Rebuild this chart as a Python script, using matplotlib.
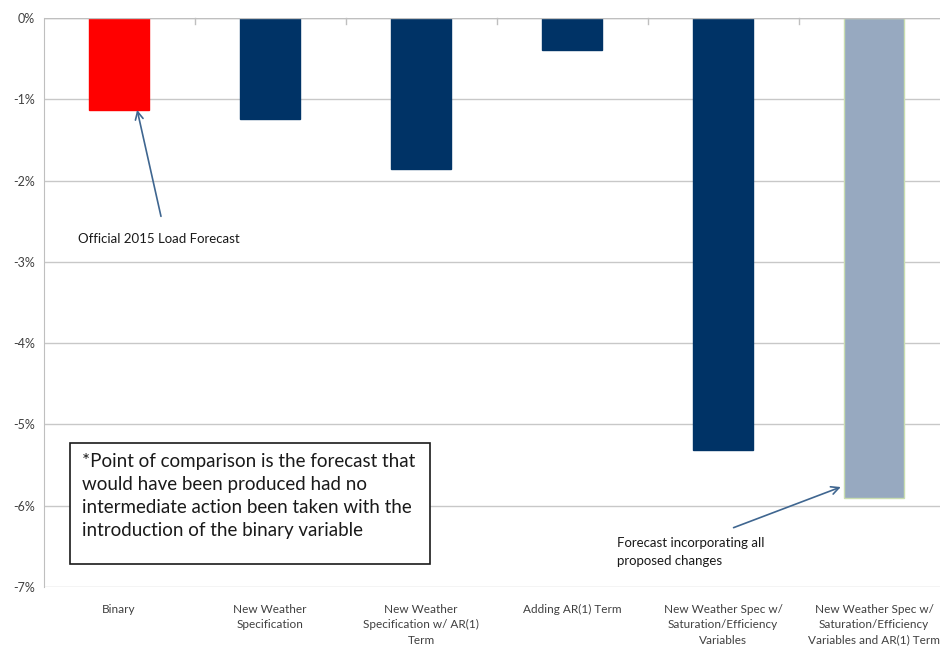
import matplotlib
matplotlib.use("Agg")
import matplotlib.pyplot as plt
from matplotlib.ticker import FuncFormatter
from matplotlib.patches import Rectangle

categories = [
    "Binary",
    "New Weather\nSpecification",
    "New Weather\nSpecification w/ AR(1)\nTerm",
    "Adding AR(1) Term",
    "New Weather Spec w/\nSaturation/Efficiency\nVariables",
    "New Weather Spec w/\nSaturation/Efficiency\nVariables and AR(1) Term",
]
values = [-1.13, -1.24, -1.86, -0.39, -5.32, -5.91]
colors = ["#FF0000", "#003366", "#003366", "#003366", "#003366", "#97A9C0"]
edges = ["#FF0000", "#003366", "#003366", "#003366", "#003366", "#C9DDB0"]
yticks = [0, -1, -2, -3, -4, -5, -6, -7]

plt.rcParams["font.family"] = ["Lato", "DejaVu Sans"]

fig = plt.figure(figsize=(9.4, 6.46), dpi=100)
ax = fig.add_axes([43.5 / 940, 1 - 587 / 646, 906 / 940, (587 - 18) / 646])

x = list(range(len(categories)))
ax.bar(x, values, width=0.4, color=colors, edgecolor=edges, linewidth=1, zorder=3)

ax.set_xlim(-0.5, len(categories) - 0.5)
ax.set_ylim(-7, 0)
ax.set_yticks(yticks)
ax.yaxis.set_major_formatter(FuncFormatter(lambda v, p: f"{int(round(v))}%"))
ax.yaxis.grid(True, color="#C8C8C8", linewidth=1, zorder=0)
ax.tick_params(axis="y", length=0, labelsize=9, labelcolor="#404040", pad=6)

ax.set_xticks(x)
ax.set_xticklabels(categories, fontsize=8.5, color="#404040", linespacing=1.5)
ax.tick_params(axis="x", length=0, pad=12)

for s in ["top", "right", "bottom"]:
    ax.spines[s].set_visible(False)
ax.spines["left"].set_color("#BFBFBF")

# category axis at 0 with tick marks between categories
ax.axhline(0, color="#BFBFBF", linewidth=1, zorder=4)
for b in [i + 0.5 for i in range(len(categories) - 1)]:
    ax.plot([b, b], [0, -0.07], color="#BFBFBF", linewidth=1, zorder=4, clip_on=False)

arrow_color = "#3F6690"
ax.annotate("", xy=(0.12, values[0]), xytext=(0.278, -2.44),
            arrowprops=dict(arrowstyle="->", color=arrow_color, lw=1.2,
                            shrinkA=0, shrinkB=0, mutation_scale=14), zorder=5)
ax.text(0.265, -2.64, "Official 2015 Load Forecast", fontsize=9.5, color="#1a1a1a",
        ha="center", va="top", zorder=5)
ax.annotate("", xy=(4.78, -5.77), xytext=(4.07, -6.27),
            arrowprops=dict(arrowstyle="->", color=arrow_color, lw=1.2,
                            shrinkA=0, shrinkB=0, mutation_scale=14), zorder=5)
ax.text(3.30, -6.39, "Forecast incorporating all\nproposed changes", fontsize=9.5,
        color="#1a1a1a", ha="left", va="top", linespacing=1.6, zorder=5)

# note box
fig.patches.append(Rectangle((70 / 940, 1 - 564 / 646), 360 / 940, 121 / 646,
                             transform=fig.transFigure, fill=True, facecolor="white",
                             edgecolor="#1a1a1a", linewidth=1.2, zorder=1))
fig.text(82 / 940, 1 - 453 / 646,
         "*Point of comparison is the forecast that\nwould have been produced had no\n"
         "intermediate action been taken with the\nintroduction of the binary variable",
         fontsize=13.5, color="#1a1a1a", ha="left", va="top", linespacing=1.42, zorder=2)

fig.savefig("out.png", dpi=100)
